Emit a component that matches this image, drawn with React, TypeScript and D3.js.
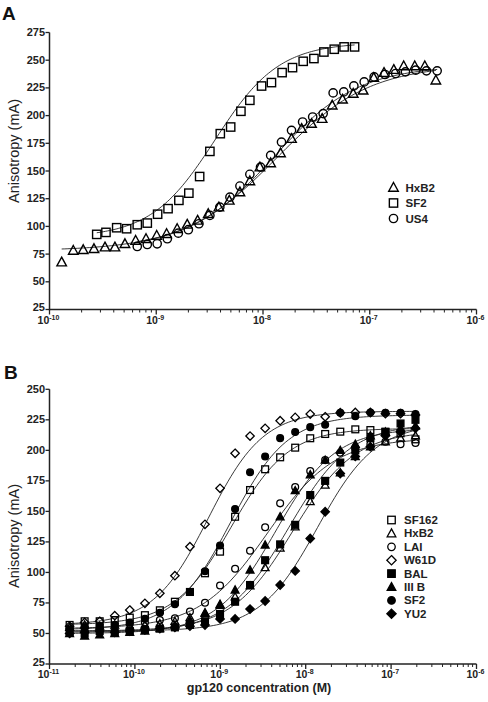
import React from "react";
import * as d3 from "d3";

// ---------- Panel A data ----------
const concA_SF2 = [2.77e-10, 3.38e-10, 4.26e-10, 5.28e-10, 6.64e-10, 8.24e-10, 1.03e-9, 1.29e-9, 1.63e-9, 2.02e-9, 2.55e-9, 3.18e-9, 3.98e-9, 4.98e-9, 6.21e-9, 7.53e-9, 9.7e-9, 1.2e-8, 1.51e-8, 1.89e-8, 2.38e-8, 3.0e-8, 3.72e-8, 4.65e-8, 5.75e-8, 7.21e-8];
const valA_SF2 = [92.8, 94.6, 98.8, 97.9, 101.5, 103, 111, 116, 123.5, 130, 145, 167.7, 183.7, 189.7, 203.9, 213.8, 226.7, 229.8, 238.8, 243.3, 249, 251.5, 257.4, 259.9, 262, 262];

const concA_HxB2 = [1.3e-10, 1.67e-10, 2.07e-10, 2.61e-10, 3.31e-10, 4.1e-10, 5.09e-10, 6.41e-10, 8.02e-10, 1.01e-9, 1.25e-9, 1.57e-9, 1.95e-9, 2.44e-9, 3.07e-9, 3.86e-9, 4.83e-9, 6.08e-9, 7.53e-9, 9.35e-9, 1.18e-8, 1.46e-8, 1.85e-8, 2.3e-8, 2.85e-8, 3.58e-8, 4.45e-8, 5.56e-8, 7.0e-8, 8.67e-8, 1.09e-7, 1.36e-7, 1.68e-7, 2.08e-7, 2.64e-7, 3.28e-7, 4.16e-7];
const valA_HxB2 = [67.7, 78.3, 78.9, 79.8, 81.3, 81.3, 84.3, 87.3, 88.9, 91.8, 93.4, 97.9, 101.8, 105.4, 111.4, 117.4, 123.5, 131, 141, 153.5, 157.2, 166.2, 179.2, 188.2, 192.8, 197.3, 209.3, 214.7, 219.9, 222.8, 234.3, 238.8, 241.5, 244.8, 244.8, 244.8, 231.9];

const concA_US4 = [6.64e-10, 8.24e-10, 1.02e-9, 1.27e-9, 1.61e-9, 2.0e-9, 2.51e-9, 3.18e-9, 3.94e-9, 4.9e-9, 6.08e-9, 7.53e-9, 9.48e-9, 1.18e-8, 1.49e-8, 1.85e-8, 2.35e-8, 2.92e-8, 3.66e-8, 4.54e-8, 5.71e-8, 7.1e-8, 8.87e-8, 1.1e-7, 1.39e-7, 1.75e-7, 2.16e-7, 2.7e-7, 3.4e-7, 4.28e-7];
const valA_US4 = [81.9, 83.7, 84.3, 88.9, 93.9, 97, 102.4, 109.9, 117.4, 126.4, 136.4, 147, 153.5, 164.1, 176.1, 186.7, 194.2, 198.7, 201.8, 220.5, 221.4, 226.8, 230.4, 234.9, 237.1, 238, 239.5, 241, 240.4, 240.4];

// fitted sigmoid parameters (bottom, top, logEC50, hill)
const namesA = ["HxB2", "SF2", "US4"];
const shapesA = ["triangle", "square", "circle"];
const fitBottomA = [78, 90, 80];
const fitTopA = [246, 266, 245];
const fitLogEC50A = [-7.87, -8.45, -7.9];
const fitHillA = [1.0, 1.45, 1.1];

// ---------- Panel B data ----------
const concB = [1.72e-11, 2.58e-11, 3.87e-11, 5.81e-11, 8.71e-11, 1.31e-10, 1.96e-10, 2.94e-10, 4.41e-10, 6.62e-10, 9.93e-10, 1.49e-9, 2.23e-9, 3.35e-9, 5.02e-9, 7.53e-9, 1.13e-8, 1.69e-8, 2.54e-8, 3.81e-8, 5.72e-8, 8.58e-8, 1.29e-7, 1.93e-7];
const valB_SF162 = [57, 60, 60, 61, 63, 65, 69, 76, 84, 99.3, 117, 145.6, 167.5, 184.5, 194.3, 202.2, 209.9, 213.4, 215.3, 217.2, 216.6, 215.3, 214, 209];
const valB_HxB2 = [55, 57, 56, 57, 56, 57, 58, 60, 63, 67, 73, 80, 89, 104, 120, 137.4, 158, 171.6, 181.7, 195, 203, 207, 210, 212];
const valB_LAI = [54, 55, 56, 57, 58, 59, 61, 62.4, 68, 75.2, 89.3, 103, 117.8, 137, 156.6, 170, 183, 192, 198, 202, 205, 207, 205, 206];
const valB_W61D = [56, 59, 60, 64.6, 69.2, 74.7, 82.9, 97.3, 121.1, 139.4, 168.9, 197.6, 211.7, 218, 224.3, 227, 229.7, 227.5, 230.8, 231, 231, 230, 230, 229];
const valB_BAL = [51, 50, 52, 51, 52, 53, 54, 55, 57, 60, 66, 76, 89.7, 110, 123, 139, 163.4, 175, 190, 200, 210, 215, 222, 225];
const valB_IIIB = [50, 48, 49, 50, 51, 52, 54, 57, 61, 66.5, 74, 85.6, 102, 122.5, 145.6, 167, 180, 192, 200, 205, 212, 215, 218, 220];
const valB_SF2 = [53, 55, 56, 57, 59, 62, 67, 74, 84, 101, 122, 152, 182, 195, 210, 215, 219, 221, 230.8, 228, 231, 230.8, 230.8, 229.7];
const valB_YU2 = [50, 51, 52, 51, 52, 53, 54, 55, 56, 56.9, 61.9, 61.9, 70, 76.6, 89.7, 101.2, 127.8, 149.7, 181, 195, 203, 212, 215, 218];

const namesB = ["SF162", "HxB2", "LAI", "W61D", "BAL", "III B", "SF2", "YU2"];
const shapesB = ["square", "triangle", "circle", "diamond", "square", "triangle", "circle", "diamond"];
const filledB = [false, false, false, false, true, true, true, true];
const fitBottomB = [57, 52, 54, 57, 51, 50, 53, 52];
const fitTopB = [218, 216, 210, 232, 222, 218, 229, 222];
const fitLogEC50B = [-8.87, -8.15, -8.45, -9.14, -8.2, -8.35, -8.88, -7.86];
const fitHillB = [1.3, 1.2, 1.1, 1.35, 1.2, 1.25, 1.3, 1.28];

const yTicksA = [25, 50, 75, 100, 125, 150, 175, 200, 225, 250, 275];
const yTicksB = [25, 50, 75, 100, 125, 150, 175, 200, 225, 250];
const xExpA = [-10, -9, -8, -7, -6];
const xExpB = [-11, -10, -9, -8, -7, -6];

const FONT = "'Liberation Sans', Arial, Helvetica, sans-serif";

function Symbol({ shape, x, y, s, filled, sw }: any) {
  const fill = filled ? "#000" : "none";
  const common = { fill, stroke: "#000", strokeWidth: sw };
  if (shape === "square") return <rect x={x - s / 2} y={y - s / 2} width={s} height={s} {...common} />;
  if (shape === "circle") return <circle cx={x} cy={y} r={s / 2} {...common} />;
  if (shape === "triangle") {
    const w = s * 1.15, h = s * 1.0;
    return <path d={`M${x},${y - h * 0.6}L${x + w / 2},${y + h * 0.45}L${x - w / 2},${y + h * 0.45}Z`} {...common} />;
  }
  const r = s * 0.62;
  return <path d={`M${x},${y - r}L${x + r},${y}L${x},${y + r}L${x - r},${y}Z`} {...common} />;
}

function sigmoid(lx: number, b: number, t: number, ec: number, h: number) {
  return b + (t - b) / (1 + Math.pow(10, (ec - lx) * h));
}

function Axes({ xs, ys, yTicks, xExps, x0, x1, y0, y1 }: any) {
  const minors: number[] = [];
  for (let e = xExps[0]; e < xExps[xExps.length - 1]; e++) {
    for (let m = 2; m <= 9; m++) minors.push(m * Math.pow(10, e));
  }
  return (
    <g fontFamily={FONT} fontWeight="bold" fill="#222">
      <line x1={x0} x2={x0} y1={y0 + 0.75} y2={y1} stroke="#222" strokeWidth={1.5} />
      <line x1={x0} x2={x1} y1={y0} y2={y0} stroke="#222" strokeWidth={1.5} />
      {yTicks.map((t: number, i: number) => (
        <g key={t}>
          <line x1={x0 - 4} x2={x0} y1={ys(t)} y2={ys(t)} stroke="#222" strokeWidth={1.3} />
          <text x={x0 - 4.5} y={ys(t) + (i === 0 ? 1.8 : 3.5)} textAnchor="end" fontSize={11}>{t}</text>
        </g>
      ))}
      {minors.map((m, i) => (
        <line key={i} x1={xs(m)} x2={xs(m)} y1={y0} y2={y0 + 3} stroke="#222" strokeWidth={1} />
      ))}
      {xExps.map((e: number) => (
        <g key={e}>
          <line x1={xs(Math.pow(10, e))} x2={xs(Math.pow(10, e))} y1={y0} y2={y0 + 5} stroke="#222" strokeWidth={1.3} />
          <text x={xs(Math.pow(10, e)) - 1} y={y0 + 14} textAnchor="middle" fontSize={10.5}>
            10<tspan fontSize={7} dy={-4}>{e}</tspan>
          </text>
        </g>
      ))}
    </g>
  );
}

export default function App() {
  const xA = d3.scaleLog().domain([1e-10, 1e-6]).range([49.5, 476.5]);
  const yA = d3.scaleLinear().domain([25, 275]).range([309.5, 32.5]);
  const xB = d3.scaleLog().domain([1e-11, 1e-6]).range([49.5, 476.5]);
  const yB = d3.scaleLinear().domain([25, 250]).range([664, 389.3]);

  const seriesA = [
    { c: concA_HxB2, v: valA_HxB2 },
    { c: concA_SF2, v: valA_SF2 },
    { c: concA_US4, v: valA_US4 },
  ];
  const valsB = [valB_SF162, valB_HxB2, valB_LAI, valB_W61D, valB_BAL, valB_IIIB, valB_SF2, valB_YU2];

  const curve = (xs: any, ys: any, cmin: number, cmax: number, b: number, t: number, ec: number, h: number) => {
    const l0 = Math.log10(cmin), l1 = Math.log10(cmax);
    const pts = d3.range(0, 121).map((i) => l0 + ((l1 - l0) * i) / 120);
    const line = d3.line<number>().x((l) => xs(Math.pow(10, l))).y((l) => ys(sigmoid(l, b, t, ec, h)));
    return line(pts) || "";
  };

  return (
    <svg width={488} height={702} style={{ position: "absolute", left: 0, top: 0, background: "#fff" }}>
      <rect width={488} height={702} fill="#fff" />
      {/* Panel A */}
      <text x={2} y={20} fontFamily={FONT} fontWeight="bold" fontSize={19} fill="#111">A</text>
      <Axes xs={xA} ys={yA} yTicks={yTicksA} xExps={xExpA} x0={49.5} x1={476.5} y0={309.5} y1={32.5} />
      <text transform="translate(19,151) rotate(-90)" textAnchor="middle" fontFamily={FONT} fontSize={14.5} fill="#222">Anisotropy (mA)</text>
      {seriesA.map((s, i) => (
        <path key={"fa" + i} d={curve(xA, yA, s.c[0], s.c[s.c.length - 1], fitBottomA[i], fitTopA[i], fitLogEC50A[i], fitHillA[i])} fill="none" stroke="#222" strokeWidth={0.9} />
      ))}
      {seriesA.map((s, i) =>
        s.c.map((c, j) => <Symbol key={i + "-" + j} shape={shapesA[i]} x={xA(c)} y={yA(s.v[j])} s={8.3} filled={false} sw={1.4} />)
      )}
      {namesA.map((n, i) => (
        <g key={n}>
          <Symbol shape={shapesA[i]} x={393.5} y={187.5 + i * 15.5} s={8.3} filled={false} sw={1.4} />
          <text x={405.5} y={187.5 + i * 15.5 + 4} fontFamily={FONT} fontWeight="bold" fontSize={11.5} fill="#222">{n}</text>
        </g>
      ))}

      {/* Panel B */}
      <text x={4} y={378.5} fontFamily={FONT} fontWeight="bold" fontSize={19} fill="#111">B</text>
      <Axes xs={xB} ys={yB} yTicks={yTicksB} xExps={xExpB} x0={49.5} x1={476.5} y0={664} y1={389.3} />
      <text transform="translate(19,536) rotate(-90)" textAnchor="middle" fontFamily={FONT} fontSize={14.5} fill="#222">Anisotropy (mA)</text>
      <text x={259} y={692} textAnchor="middle" fontFamily={FONT} fontWeight="bold" fontSize={12.5} fill="#222">gp120 concentration (M)</text>
      {valsB.map((v, i) => (
        <path key={"fb" + i} d={curve(xB, yB, concB[0], concB[concB.length - 1], fitBottomB[i], fitTopB[i], fitLogEC50B[i], fitHillB[i])} fill="none" stroke="#222" strokeWidth={0.9} />
      ))}
      {valsB.map((v, i) =>
        v.map((val, j) => <Symbol key={"b" + i + "-" + j} shape={shapesB[i]} x={xB(concB[j])} y={yB(val)} s={6.8} filled={filledB[i]} sw={1.3} />)
      )}
      {namesB.map((n, i) => (
        <g key={n}>
          <Symbol shape={shapesB[i]} x={391.5} y={520 + i * 13.4} s={7.5} filled={filledB[i]} sw={1.3} />
          <text x={404} y={520 + i * 13.4 + 4} fontFamily={FONT} fontWeight="bold" fontSize={11.5} fill="#222">{n}</text>
        </g>
      ))}
    </svg>
  );
}
